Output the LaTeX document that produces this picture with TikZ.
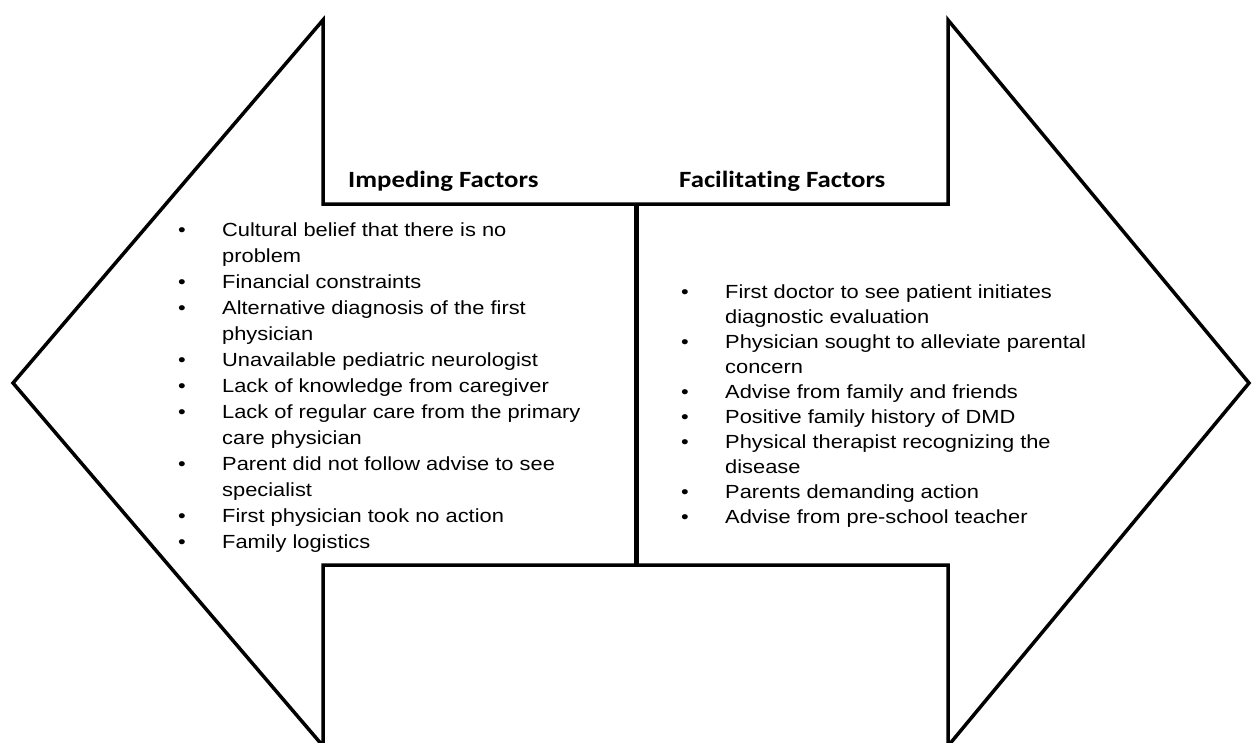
\documentclass[tikz,border=0pt]{standalone}
\usepackage{fontspec}
\setmainfont{Liberation Sans}[FakeStretch=1.15]
\newfontfamily\headfont{Carlito}[FakeStretch=1.15, Ligatures=NoCommon]
\newcommand{\bitem}{\makebox[44pt][l]{\textbullet}}
\newcommand{\bcont}{\hspace*{44pt}}
\tikzset{
  outline/.style={line width=3.5pt, line join=miter},
  divider/.style={line width=5.5pt},
  heading/.style={anchor=base west, inner sep=0pt, font=\headfont\bfseries\fontsize{23.3}{28}\selectfont},
  factors/.style={anchor=base west, inner sep=0pt, align=left}
}

\begin{document}
\begin{tikzpicture}[x=1pt,y=-1pt]
\useasboundingbox (0,0) rectangle (1253,742);

\draw [outline]
(13,383)--(323,20)--(323,204)--(948,204)--(948,20)--(1249,383)
--(948,746)--(948,565)--(323,565)--(323,746)--cycle;

\coordinate (divtop) at (636.5,204);
\coordinate (divbot) at (636.5,565);
\draw [divider] (divtop)--(divbot);

\node (imphead) [heading] at (348,187) {Impeding Factors};
\node (facihead) [heading] at (679,187) {Facilitating Factors};

\node (implist) [factors, font=\fontsize{19}{26}\selectfont] at (178,548.7) {
\bitem Cultural belief that there is no\\
\bcont problem\\
\bitem Financial constraints\\
\bitem Alternative diagnosis of the first\\
\bcont physician\\
\bitem Unavailable pediatric neurologist\\
\bitem Lack of knowledge from caregiver\\
\bitem Lack of regular care from the primary\\
\bcont care physician\\
\bitem Parent did not follow advise to see\\
\bcont specialist\\
\bitem First physician took no action\\
\bitem Family logistics};

\node (facilist) [factors, font=\fontsize{19}{25}\selectfont] at (681,523.3) {
\bitem First doctor to  see patient initiates\\
\bcont diagnostic evaluation\\
\bitem Physician sought to alleviate parental\\
\bcont concern\\
\bitem Advise from family and friends\\
\bitem Positive family history of DMD\\
\bitem Physical therapist recognizing the\\
\bcont disease\\
\bitem Parents demanding action\\
\bitem Advise from pre-school teacher};
\end{tikzpicture}
\end{document}
